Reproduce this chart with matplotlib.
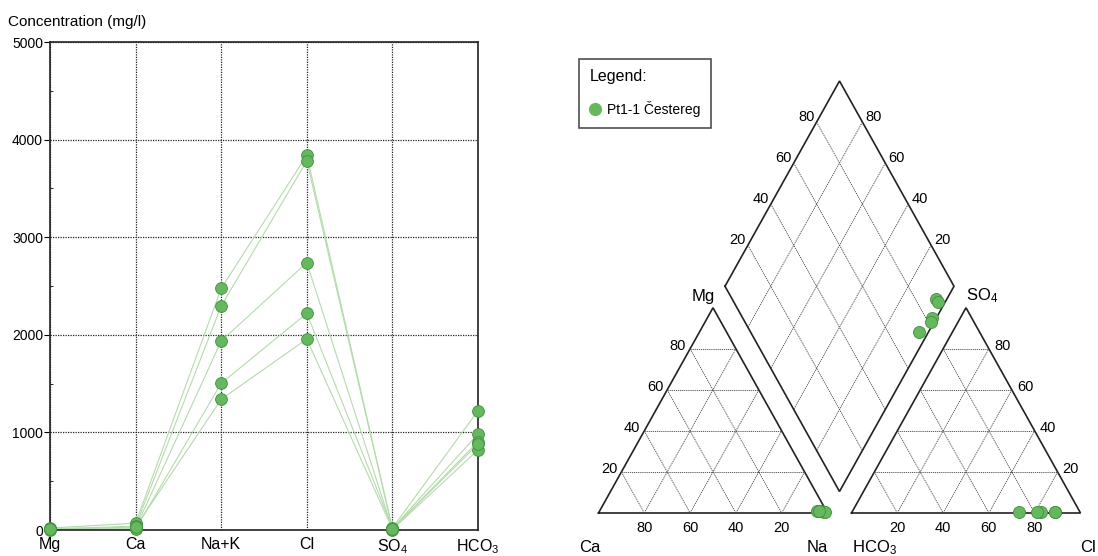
import numpy as np
import matplotlib
matplotlib.use('Agg')
import matplotlib.pyplot as plt
from matplotlib.lines import Line2D

plt.rcParams['font.family'] = ['Liberation Sans', 'DejaVu Sans']
plt.rcParams['mathtext.fontset'] = 'custom'
plt.rcParams['mathtext.rm'] = 'Liberation Sans'
plt.rcParams['mathtext.default'] = 'regular'

# --- Schoeller-type diagram, concentrations in mg/l (one entry per sample)
ions = ['Mg', 'Ca', 'Na+K', 'Cl', 'SO$_4$', 'HCO$_3$']
mg = [20, 10, 15, 5, 10]
ca = [70, 40, 20, 10, 30]
nak = [2476, 2295, 1937, 1503, 1339]
cl = [3839, 3781, 2739, 2220, 1957]
so4 = [15, 10, 5, 20, 10]
hco3 = [984, 905, 820, 1222, 880]

# --- Piper diagram, meq %
pct_mg = [1.0, 0.8, 0.6, 0.5, 1.2]
pct_na = [95.0, 96.6, 98.2, 98.5, 95.6]
pct_so4 = [0.4, 0.3, 0.5, 0.6, 0.4]
pct_cl = [88.6, 88.7, 82.3, 80.5, 73.0]
grid_vals = [20, 40, 60, 80]
sample_name = 'Pt1-1 Čestereg'

FILL = '#63b95c'
EDGE = '#3f8f3c'
LINE = '#b3dcab'

W, H = 1098, 556
fig = plt.figure(figsize=(W / 100, H / 100), dpi=100)

# ---------------- left panel
ax = fig.add_axes([50 / W, (H - 530) / H, 428 / W, 488 / H])
xs = np.arange(len(ions))
for i in range(len(nak)):
    vals = [mg[i], ca[i], nak[i], cl[i], so4[i], hco3[i]]
    ax.plot(xs, vals, color=LINE, lw=0.8, zorder=2, clip_on=False)
for i in range(len(nak)):
    vals = [mg[i], ca[i], nak[i], cl[i], so4[i], hco3[i]]
    ax.plot(xs, vals, 'o', ms=8.5, mfc=FILL, mec=EDGE, mew=0.6, ls='none',
            zorder=3, clip_on=False)
ax.set_xlim(0, 5)
ax.set_ylim(0, 5000)
ax.set_xticks(xs)
ax.set_xticklabels(ions, fontsize=11.5)
ax.set_yticks(range(0, 5001, 1000))
ax.set_yticks(range(500, 5000, 1000), minor=True)
ax.tick_params(axis='y', labelsize=10, length=4, width=0.8, pad=1, direction='out')
ax.tick_params(axis='y', which='minor', length=2.5, width=0.6, direction='in')
ax.tick_params(axis='x', length=0, pad=5)
ax.grid(True, which='major', color='#222222', ls=(0, (1, 1)), lw=0.9)
for s in ax.spines.values():
    s.set_linewidth(1.2)
    s.set_color('#222222')
fig.text(8 / W, 1 - 22 / H, 'Concentration (mg/l)', fontsize=11, va='center', ha='left')

# ---------------- Piper panel
g = 24 / 229
h = np.sqrt(3) / 2
X0, SX, Y0, SY = 598.5, 229.0, 513.0, 237.0
left_px = 560
axp = fig.add_axes([left_px / W, 0, (W - left_px) / W, 1])
axp.set_xlim((left_px - X0) / SX, (W - X0) / SX)
axp.set_ylim((Y0 - H) / SY, Y0 / SY)
axp.axis('off')


def cat_xy(m, n):
    return n / 100 + m / 200, m / 100 * h


def an_xy(s, c):
    return 1 + g + c / 100 + s / 200, s / 100 * h


def dia_xy(n, b):
    t = 2 + g - b / 100 - n / 100
    return n / 100 + t / 2, h * t


edge_kw = dict(color='#222222', lw=1.2, solid_joinstyle='miter')
grid_kw = dict(color='#444444', lw=0.6, ls=(0, (1.5, 1)))


def seg(p, q, **kw):
    axp.plot([p[0], q[0]], [p[1], q[1]], **kw)


# outlines
tri_c = [cat_xy(0, 0), cat_xy(0, 100), cat_xy(100, 0), cat_xy(0, 0)]
tri_a = [an_xy(0, 0), an_xy(0, 100), an_xy(100, 0), an_xy(0, 0)]
dia = [dia_xy(0, 100), dia_xy(0, 0), dia_xy(100, 0), dia_xy(100, 100), dia_xy(0, 100)]
for poly in (tri_c, tri_a, dia):
    axp.plot([p[0] for p in poly], [p[1] for p in poly], **edge_kw)

# grids
for v in grid_vals:
    # cation: Mg, Na, Ca constant
    seg(cat_xy(v, 0), cat_xy(v, 100 - v), **grid_kw)
    seg(cat_xy(0, v), cat_xy(100 - v, v), **grid_kw)
    seg(cat_xy(100 - v, 0), cat_xy(0, 100 - v), **grid_kw)
    # anion: SO4, Cl, HCO3 constant
    seg(an_xy(v, 0), an_xy(v, 100 - v), **grid_kw)
    seg(an_xy(0, v), an_xy(100 - v, v), **grid_kw)
    seg(an_xy(100 - v, 0), an_xy(0, 100 - v), **grid_kw)
    # diamond
    seg(dia_xy(v, 0), dia_xy(v, 100), **grid_kw)
    seg(dia_xy(0, v), dia_xy(100, v), **grid_kw)

# tick labels
tk = dict(fontsize=10.5, textcoords='offset pixels', va='center')
for v in grid_vals:
    axp.annotate(str(v), cat_xy(v, 0), xytext=(-4, 3), ha='right', **tk)
    axp.annotate(str(v), cat_xy(0, 100 - v), xytext=(0, -15), ha='center', **tk)
    axp.annotate(str(v), an_xy(v, 100 - v), xytext=(5, 3), ha='left', **tk)
    axp.annotate(str(v), an_xy(0, v), xytext=(0, -15), ha='center', **tk)
    axp.annotate(str(v), dia_xy(0, 100 - v), xytext=(-2, 5), ha='right', **tk)
    axp.annotate(str(v), dia_xy(100 - v, 0), xytext=(3, 5), ha='left', **tk)

# corner labels
cl_kw = dict(fontsize=12, textcoords='offset pixels', va='center')
axp.annotate('Mg', cat_xy(100, 0), xytext=(2, 11), ha='right', **cl_kw)
axp.annotate('SO$_4$', an_xy(100, 0), xytext=(0, 12), ha='left', **cl_kw)
axp.annotate('Ca', cat_xy(0, 0), xytext=(-9, -34), ha='center', **cl_kw)
axp.annotate('Na', cat_xy(0, 100), xytext=(-10, -34), ha='center', **cl_kw)
axp.annotate('HCO$_3$', an_xy(0, 0), xytext=(0, -35), ha='left', **cl_kw)
axp.annotate('Cl', an_xy(0, 100), xytext=(0, -34), ha='left', **cl_kw)

# samples
pk = dict(s=75, c=FILL, edgecolors=EDGE, linewidths=0.6, zorder=5, clip_on=False)
pts_c = [cat_xy(m, n) for m, n in zip(pct_mg, pct_na)]
pts_a = [an_xy(s, c) for s, c in zip(pct_so4, pct_cl)]
pts_d = [dia_xy(n, 100 - c - s) for n, s, c in zip(pct_na, pct_so4, pct_cl)]
for pts in (pts_c, pts_a, pts_d):
    axp.scatter([p[0] for p in pts], [p[1] for p in pts], **pk)

# legend
handle = Line2D([], [], marker='o', ls='none', ms=8.5, mfc=FILL, mec=FILL)
leg = fig.legend([handle], [sample_name], title='Legend:', loc='upper left',
                 bbox_to_anchor=(579 / W, 1 - 59 / H), borderaxespad=0,
                 fontsize=10, title_fontsize=11.5, frameon=True, fancybox=False,
                 edgecolor='#222222', borderpad=0.75, labelspacing=1.2,
                 handlelength=0.8, handletextpad=0.5, alignment='left')
leg.get_frame().set_linewidth(1.2)

fig.savefig('out.png', dpi=100)
